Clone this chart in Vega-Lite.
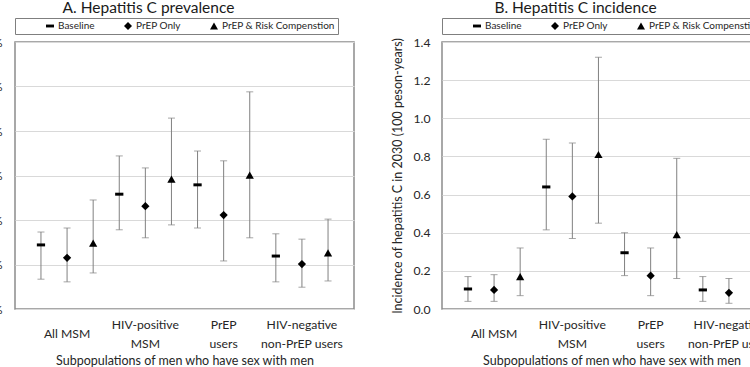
{
  "$schema": "https://vega.github.io/schema/vega-lite/v6.json",
  "padding": {"left": -16, "top": 0, "right": 0, "bottom": 0},
  "background": "white",
  "config": {
    "font": "Lato",
    "view": {"stroke": "#8c8c8c", "strokeWidth": 1.5},
    "axis": {"labelFont": "Lato", "titleFont": "Lato", "labelColor": "#262626", "titleColor": "#262626", "labelFontSize": 12.2, "titleFontSize": 12.5, "titleFontWeight": "normal", "domain": false, "ticks": false, "gridColor": "#d9d9d9", "gridWidth": 1, "labelOverlap": false},
    "title": {"font": "Lato", "fontSize": 15.5, "fontWeight": "normal", "color": "#1a1a1a", "frame": "group", "anchor": "middle", "dx": -36, "offset": 1},
    "legend": {"orient": "none", "legendX": 0, "legendY": -24, "direction": "horizontal", "columns": 3, "strokeColor": "#7f7f7f", "padding": 3, "symbolOffset": 27, "columnPadding": 1, "labelOffset": 3, "symbolSize": 64, "symbolFillColor": "black", "symbolStrokeWidth": 0, "labelFont": "Lato", "labelFontSize": 10, "labelColor": "#262626"}
  },
  "datasets": {
    "prevalence": [
      {"group": "All MSM", "series": "Baseline", "est": 1.44, "lo": 0.67, "hi": 1.73},
      {"group": "All MSM", "series": "PrEP Only", "est": 1.15, "lo": 0.61, "hi": 1.82},
      {"group": "All MSM", "series": "PrEP & Risk Compenstion", "est": 1.48, "lo": 0.81, "hi": 2.45},
      {"group": "HIV-positive MSM", "series": "Baseline", "est": 2.58, "lo": 1.78, "hi": 3.44},
      {"group": "HIV-positive MSM", "series": "PrEP Only", "est": 2.31, "lo": 1.6, "hi": 3.17},
      {"group": "HIV-positive MSM", "series": "PrEP & Risk Compenstion", "est": 2.92, "lo": 1.89, "hi": 4.29},
      {"group": "PrEP users", "series": "Baseline", "est": 2.79, "lo": 1.82, "hi": 3.55},
      {"group": "PrEP users", "series": "PrEP Only", "est": 2.11, "lo": 1.08, "hi": 3.33},
      {"group": "PrEP users", "series": "PrEP & Risk Compenstion", "est": 3.01, "lo": 1.6, "hi": 4.88},
      {"group": "HIV-negative non-PrEP users", "series": "Baseline", "est": 1.19, "lo": 0.61, "hi": 1.69},
      {"group": "HIV-negative non-PrEP users", "series": "PrEP Only", "est": 1.01, "lo": 0.49, "hi": 1.57},
      {"group": "HIV-negative non-PrEP users", "series": "PrEP & Risk Compenstion", "est": 1.26, "lo": 0.63, "hi": 2.02}
    ],
    "incidence": [
      {"group": "All MSM", "series": "Baseline", "est": 0.105, "lo": 0.04, "hi": 0.17},
      {"group": "All MSM", "series": "PrEP Only", "est": 0.1, "lo": 0.04, "hi": 0.18},
      {"group": "All MSM", "series": "PrEP & Risk Compenstion", "est": 0.17, "lo": 0.07, "hi": 0.32},
      {"group": "HIV-positive MSM", "series": "Baseline", "est": 0.64, "lo": 0.415, "hi": 0.89},
      {"group": "HIV-positive MSM", "series": "PrEP Only", "est": 0.59, "lo": 0.37, "hi": 0.87},
      {"group": "HIV-positive MSM", "series": "PrEP & Risk Compenstion", "est": 0.81, "lo": 0.45, "hi": 1.32},
      {"group": "PrEP users", "series": "Baseline", "est": 0.295, "lo": 0.175, "hi": 0.4},
      {"group": "PrEP users", "series": "PrEP Only", "est": 0.175, "lo": 0.07, "hi": 0.32},
      {"group": "PrEP users", "series": "PrEP & Risk Compenstion", "est": 0.39, "lo": 0.16, "hi": 0.79},
      {"group": "HIV-negative non-PrEP users", "series": "Baseline", "est": 0.1, "lo": 0.04, "hi": 0.17},
      {"group": "HIV-negative non-PrEP users", "series": "PrEP Only", "est": 0.085, "lo": 0.03, "hi": 0.16},
      {"group": "HIV-negative non-PrEP users", "series": "PrEP & Risk Compenstion", "est": 0.13, "lo": 0.05, "hi": 0.25}
    ]
  },
  "spacing": 36,
  "resolve": {"scale": {"shape": "independent", "y": "independent", "x": "independent", "xOffset": "independent"}, "legend": {"shape": "independent"}},
  "hconcat": [
    {
      "title": {"text": "A. Hepatitis C prevalence"},
      "width": 339,
      "height": 267,
      "data": {"name": "prevalence"},
      "encoding": {
        "x": {"field": "group", "type": "nominal", "sort": ["All MSM", "HIV-positive MSM", "PrEP users", "HIV-negative non-PrEP users"], "scale": {"paddingInner": 0, "paddingOuter": 0.165},
          "axis": {"title": "Subpopulations of men who have sex with men", "labelAngle": 0, "labelExpr": "datum.value == 'HIV-positive MSM' ? ['HIV-positive', 'MSM'] : datum.value == 'PrEP users' ? ['PrEP', 'users'] : datum.value == 'HIV-negative non-PrEP users' ? ['HIV-negative', 'non-PrEP  users'] : datum.value", "labelPadding": {"condition": {"test": "datum.value == 'All MSM'", "value": 24}, "value": 15}, "labelLineHeight": 19, "labelBaseline": "middle", "titlePadding": 5, "grid": false}},
        "xOffset": {"field": "series", "type": "nominal", "sort": ["Baseline", "PrEP Only", "PrEP & Risk Compenstion"], "scale": {"paddingInner": 0, "paddingOuter": 0}}
      },
      "layer": [
        {"mark": {"type": "rule", "color": "#808080", "strokeWidth": 1},
         "encoding": {"y": {"field": "lo", "type": "quantitative", "scale": {"domain": [0, 6], "nice": false}, "axis": {"values": [0, 1, 2, 3, 4, 5, 6], "tickCount": 10, "labelExpr": "datum.value + '%'", "title": null, "grid": true, "labelPadding": 13}}, "y2": {"field": "hi"}}},
        {"mark": {"type": "tick", "orient": "horizontal", "color": "#808080", "size": 7, "thickness": 1}, "encoding": {"y": {"field": "lo", "type": "quantitative"}}},
        {"mark": {"type": "tick", "orient": "horizontal", "color": "#808080", "size": 7, "thickness": 1}, "encoding": {"y": {"field": "hi", "type": "quantitative"}}},
        {"mark": {"type": "point", "filled": true, "color": "black", "opacity": 1, "size": 68},
         "encoding": {"y": {"field": "est", "type": "quantitative"},
           "shape": {"field": "series", "type": "nominal", "scale": {"domain": ["Baseline", "PrEP Only", "PrEP & Risk Compenstion"], "range": ["M-1,-0.36L1,-0.36L1,0.36L-1,0.36Z", "diamond", "triangle-up"]}, "legend": {"title": null}}}}
      ]
    },
    {
      "title": {"text": "B. Hepatitis C incidence"},
      "width": 339,
      "height": 267,
      "data": {"name": "incidence"},
      "encoding": {
        "x": {"field": "group", "type": "nominal", "sort": ["All MSM", "HIV-positive MSM", "PrEP users", "HIV-negative non-PrEP users"], "scale": {"paddingInner": 0, "paddingOuter": 0.165},
          "axis": {"title": "Subpopulations of men who have sex with men", "labelAngle": 0, "labelExpr": "datum.value == 'HIV-positive MSM' ? ['HIV-positive', 'MSM'] : datum.value == 'PrEP users' ? ['PrEP', 'users'] : datum.value == 'HIV-negative non-PrEP users' ? ['HIV-negative', 'non-PrEP  users'] : datum.value", "labelPadding": {"condition": {"test": "datum.value == 'All MSM'", "value": 24}, "value": 15}, "labelLineHeight": 19, "labelBaseline": "middle", "titlePadding": 5, "grid": false}},
        "xOffset": {"field": "series", "type": "nominal", "sort": ["Baseline", "PrEP Only", "PrEP & Risk Compenstion"], "scale": {"paddingInner": 0, "paddingOuter": 0}}
      },
      "layer": [
        {"mark": {"type": "rule", "color": "#808080", "strokeWidth": 1},
         "encoding": {"y": {"field": "lo", "type": "quantitative", "scale": {"domain": [0, 1.4], "nice": false}, "axis": {"values": [0, 0.2, 0.4, 0.6, 0.8, 1.0, 1.2, 1.4], "tickCount": 10, "format": ".1f", "title": "Incidence of hepatitis C in 2030 (100 peson-years)", "grid": true, "labelPadding": 12, "titlePadding": 8}}, "y2": {"field": "hi"}}},
        {"mark": {"type": "tick", "orient": "horizontal", "color": "#808080", "size": 7, "thickness": 1}, "encoding": {"y": {"field": "lo", "type": "quantitative"}}},
        {"mark": {"type": "tick", "orient": "horizontal", "color": "#808080", "size": 7, "thickness": 1}, "encoding": {"y": {"field": "hi", "type": "quantitative"}}},
        {"mark": {"type": "point", "filled": true, "color": "black", "opacity": 1, "size": 68},
         "encoding": {"y": {"field": "est", "type": "quantitative"},
           "shape": {"field": "series", "type": "nominal", "scale": {"domain": ["Baseline", "PrEP Only", "PrEP & Risk Compenstion"], "range": ["M-1,-0.36L1,-0.36L1,0.36L-1,0.36Z", "diamond", "triangle-up"]}, "legend": {"title": null}}}}
      ]
    }
  ]
}
